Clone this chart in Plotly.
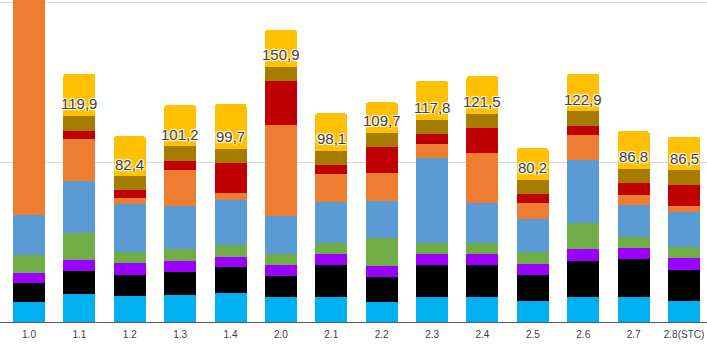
import plotly.graph_objects as go
import numpy as np

categories = ["1.0", "1.1", "1.2", "1.3", "1.4", "2.0", "2.1", "2.2", "2.3", "2.4", "2.5", "2.6", "2.7", "2.8(STC)"]

cyan   = [12.8, 17.8, 16.1, 17.0, 18.4, 15.5, 15.5, 12.4, 15.5, 15.5, 13.3, 15.5, 15.5, 13.3]
black  = [11.3, 13.9, 13.4, 14.1, 15.8, 13.1, 20.0, 15.6, 20.0, 20.0, 16.3, 22.5, 23.8, 19.1]
purple = [6.3, 6.9, 7.5, 7.3, 6.7, 6.9, 6.9, 6.9, 6.9, 6.9, 6.9, 7.8, 6.9, 7.8]
green  = [11.3, 17.3, 6.9, 7.3, 7.3, 6.9, 6.9, 17.3, 6.9, 6.9, 7.5, 16.3, 6.9, 6.9]
blue   = [25.0, 32.3, 30.0, 26.6, 28.1, 24.0, 25.4, 23.6, 53.4, 24.8, 20.6, 38.9, 20.3, 21.6]
orange = [187.5, 26.4, 3.3, 22.8, 4.6, 56.6, 17.7, 17.5, 8.5, 31.7, 9.8, 15.8, 6.0, 4.0]
red    = [10.0, 5.0, 5.0, 5.6, 18.6, 27.9, 5.9, 16.3, 6.5, 15.6, 5.6, 5.9, 7.5, 13.1]
olive  = [9.0, 9.2, 8.9, 9.1, 8.9, 8.6, 8.8, 8.8, 8.8, 8.9, 9.0, 9.1, 8.8, 9.1]
yellow = [25.0, 26.4, 25.0, 25.6, 27.9, 23.3, 23.3, 18.8, 24.4, 23.3, 19.6, 23.4, 23.6, 20.6]

total_labels = [None, "119,9", "82,4", "101,2", "99,7", "150,9", "98,1", "109,7", "117,8", "121,5", "80,2", "122,9", "86,8", "86,5"]

series = [
    (cyan, "#00B0F0"),
    (black, "#000000"),
    (purple, "#9900FF"),
    (green, "#70AD47"),
    (blue, "#5B9BD5"),
    (orange, "#ED7D31"),
    (red, "#C00000"),
    (olive, "#A67C00"),
    (yellow, "#FFC000"),
]

fig = go.Figure()
for vals, col in series:
    fig.add_trace(go.Bar(x=categories, y=vals, marker=dict(color=col, line=dict(width=0)),
                         hoverinfo="skip", showlegend=False))

label_base = np.sum([cyan, black, purple, green, blue, orange, red, olive], axis=0)
shadow = "1px 1px 1px #fff, -1px -1px 1px #fff, 1px -1px 1px #fff, -1px 1px 1px #fff"
for i, (base, t) in enumerate(zip(label_base, total_labels)):
    if t is None:
        continue
    fig.add_annotation(x=i, y=base, text=t, showarrow=False, yanchor="middle", yshift=12,
                       font=dict(family="Liberation Sans", size=15, color="#404040", shadow=shadow))

fig.update_layout(
    barmode="stack",
    bargap=0.365,
    barcornerradius=3,
    width=707, height=352,
    margin=dict(l=0, r=0, t=0, b=30),
    paper_bgcolor="white", plot_bgcolor="white",
    xaxis=dict(type="category", range=[-0.5756, 13.456], showline=True, linecolor="#595959", linewidth=1,
               tickfont=dict(family="Liberation Sans", size=10, color="#404040"),
               showgrid=False, ticks="", ticklabelstandoff=3),
    yaxis=dict(range=[0, 201.25], dtick=100, showgrid=True, gridcolor="#D9D9D9", gridwidth=1,
               showticklabels=False, zeroline=False),
)

fig.write_html("out.html")
